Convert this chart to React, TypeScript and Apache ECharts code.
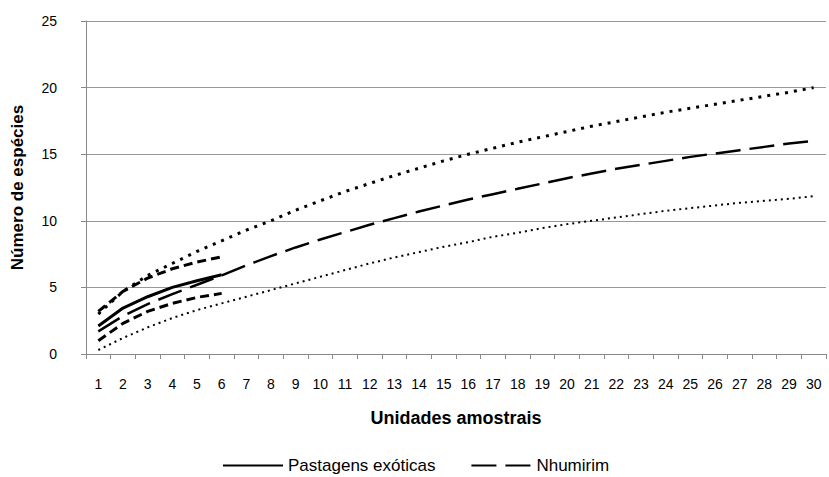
import React, { useEffect, useRef } from "react";
import * as echarts from "echarts";

const categories = Array.from({ length: 30 }, (_, i) => String(i + 1));

const pastagensMean = [2.1, 3.45, 4.3, 5.0, 5.5, 5.95];
const pastagensUpper = [3.2, 4.7, 5.7, 6.4, 6.9, 7.3];
const pastagensLower = [1.0, 2.3, 3.2, 3.8, 4.25, 4.55];

const nhumirimMean = [
  1.7, 2.85, 3.75, 4.5, 5.2, 5.9, 6.65, 7.35, 8.0, 8.6,
  9.15, 9.7, 10.2, 10.7, 11.15, 11.6, 12.0, 12.4, 12.8, 13.2,
  13.55, 13.9, 14.2, 14.5, 14.8, 15.05, 15.3, 15.55, 15.8, 16.0,
];
const nhumirimUpper = [
  3.0, 4.7, 5.9, 6.8, 7.7, 8.5, 9.3, 10.0, 10.8, 11.5,
  12.2, 12.8, 13.4, 13.95, 14.5, 15.0, 15.45, 15.9, 16.3, 16.7,
  17.1, 17.45, 17.8, 18.15, 18.45, 18.75, 19.05, 19.35, 19.65, 20.0,
];
const nhumirimLower = [
  0.3, 1.2, 2.0, 2.7, 3.3, 3.8, 4.3, 4.8, 5.3, 5.8,
  6.3, 6.8, 7.25, 7.65, 8.05, 8.4, 8.8, 9.1, 9.45, 9.75,
  10.0, 10.25, 10.5, 10.75, 10.95, 11.15, 11.35, 11.5, 11.65, 11.85,
];

const yTicks = [0, 5, 10, 15, 20, 25];

export default function App() {
  const ref = useRef<HTMLDivElement>(null);
  useEffect(() => {
    if (!ref.current) return;
    const chart = echarts.init(ref.current, null, { renderer: "svg" });
    const font = "Arial, 'Liberation Sans', sans-serif";
    const line = (name: string, data: number[], lineStyle: any) => ({
      name,
      type: "line",
      data,
      symbol: "none",
      showSymbol: false,
      smooth: false,
      lineStyle: { color: "#000", ...lineStyle },
      itemStyle: { color: "#000", opacity: 0 },
      z: 3,
    });
    chart.setOption({
      animation: false,
      backgroundColor: "#fff",
      textStyle: { fontFamily: font },
      grid: { left: 86, right: 3, top: 21, bottom: 123 },
      legend: {
        data: ["Pastagens exóticas", "Nhumirim"],
        left: 217,
        top: 452,
        itemWidth: 60,
        itemHeight: 14,
        itemGap: 35,
        textStyle: { fontSize: 17, color: "#000", fontFamily: font },
      },
      xAxis: {
        type: "category",
        data: categories,
        boundaryGap: true,
        name: "Unidades amostrais",
        nameLocation: "middle",
        nameGap: 55,
        nameMoveOverlap: false,
        nameTextStyle: { fontSize: 18, fontWeight: "bold", color: "#000", fontFamily: font },
        axisLine: { lineStyle: { color: "#888", width: 1 } },
        axisTick: { show: true, alignWithLabel: false, length: 5, lineStyle: { color: "#888" } },
        axisLabel: { fontSize: 14, color: "#000", margin: 23, interval: 0 },
        splitLine: { show: false },
      },
      yAxis: {
        type: "value",
        min: 0,
        max: 25,
        interval: 5,
        name: "Número de espécies",
        nameLocation: "middle",
        nameGap: 60,
        nameMoveOverlap: false,
        nameTextStyle: { fontSize: 17, fontWeight: "bold", color: "#000", fontFamily: font },
        axisLine: { show: true, lineStyle: { color: "#888", width: 1 } },
        axisTick: { show: true, length: 5, lineStyle: { color: "#888" } },
        axisLabel: {
          fontSize: 14,
          color: "#000",
          margin: 29,
          formatter: (v: number) => (yTicks.includes(v) ? String(v) : ""),
        },
        splitLine: { show: true, lineStyle: { color: "#999", width: 1 } },
      },
      series: [
        line("Nhumirim (limite superior)", nhumirimUpper, { width: 3, type: [3, 6] }),
        line("Nhumirim (limite inferior)", nhumirimLower, { width: 2, type: [2, 4] }),
        line("Nhumirim", nhumirimMean, { width: 2.5, type: [25, 9] }),
        line("Pastagens exóticas (limite superior)", pastagensUpper, { width: 3, type: [9, 5] }),
        line("Pastagens exóticas (limite inferior)", pastagensLower, { width: 3, type: [9, 5] }),
        line("Pastagens exóticas", pastagensMean, { width: 3, type: "solid" }),
      ],
    });
    return () => chart.dispose();
  }, []);
  return (
    <div
      ref={ref}
      style={{ position: "fixed", left: 0, top: 0, width: 829, height: 477, background: "#fff" }}
    />
  );
}
